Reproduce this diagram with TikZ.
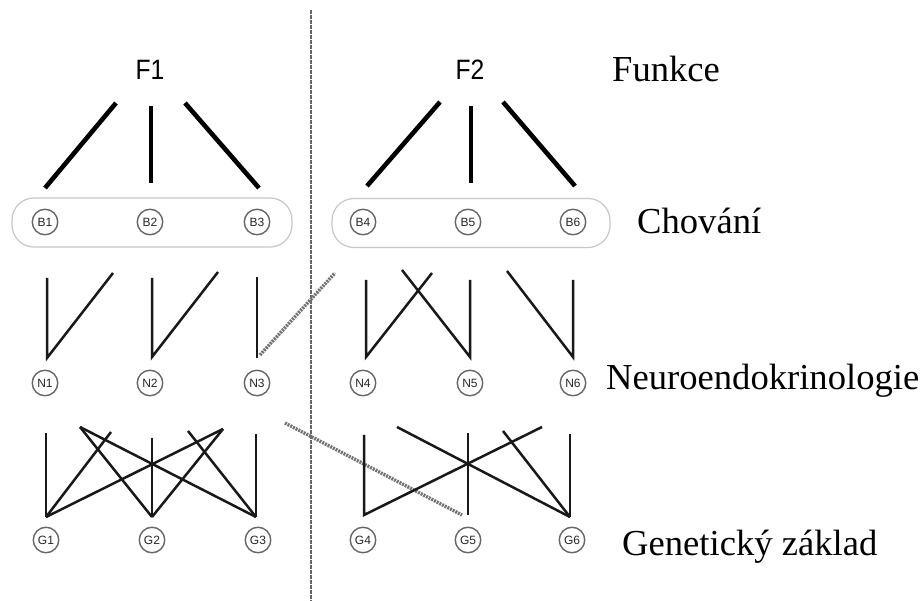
\documentclass[tikz,border=0pt]{standalone}
\usepackage{fontspec}
\setmainfont{Liberation Serif}
\newfontfamily\arialf{Liberation Sans}
\begin{document}
\begin{tikzpicture}[x=1pt,y=-1pt,
  circ/.style={circle, draw=black!60, line width=1.4pt, minimum size=25.5pt, inner sep=0pt,
    font=\arialf\fontsize{12}{12}\selectfont, text=black!85},
  flabel/.style={font=\arialf\fontsize{28}{28}\selectfont, inner sep=0pt, xscale=0.88},
  lvl/.style={anchor=base west, font=\fontsize{36.6}{36.6}\selectfont, inner sep=0pt},
  diagln/.style={line width=4.6pt, black},
  vertln/.style={line width=3.2pt, black},
  link/.style={line width=2.5pt, black!90},
  hatchln/.style={line width=3.4pt, black!55, dash pattern=on 2pt off 1pt},
  group/.style={draw=black!22, line width=1.2pt, rounded corners=22pt, minimum height=49pt},
  divider/.style={line width=1.3pt, black!60, dash pattern=on 1.6pt off 0.9pt}
]
\fill[white] (0,0) rectangle (924,601);
\useasboundingbox (0,0) rectangle (924,601);

% divider
\coordinate (dtop) at (311,10);
\coordinate (dbot) at (311,601);
\draw[divider] (dtop) -- (dbot);

% function labels
\node[flabel] (F1) at (150,70) {F1};
\node[flabel] (F2) at (470,70) {F2};

% level labels
\node[lvl] (Lfun) at (612,82) {Funkce};
\node[lvl] (Lcho) at (637,234) {Chování};
\node[lvl] (Lneu) at (606,390) {Neuroendokrinologie};
\node[lvl] (Lgen) at (622,555) {Genetický základ};

% behaviour groups
\node[group, minimum width=280pt] (BL) at (152,222.5) {};
\node[group, minimum width=278pt] (BR) at (471,223) {};

% circles
\foreach \n/\x in {1/45,2/150,3/257,4/363,5/468,6/573}{
  \node[circ] (B\n) at (\x,222) {B\n};}
\foreach \n/\x in {1/45,2/150,3/257,4/363,5/470,6/573}{
  \node[circ] (N\n) at (\x,383) {N\n};}
\foreach \n/\x in {1/46,2/152,3/258,4/363,5/468,6/572}{
  \node[circ] (G\n) at (\x,540) {G\n};}

% top connector coordinates
\coordinate (a1) at (116,103); \coordinate (a2) at (45,188);
\coordinate (a3) at (151,106); \coordinate (a4) at (151,183);
\coordinate (a5) at (185,103); \coordinate (a6) at (259,188);
\coordinate (b1) at (440,102); \coordinate (b2) at (367,186);
\coordinate (b3) at (471,106); \coordinate (b4) at (471,183);
\coordinate (b5) at (503,102); \coordinate (b6) at (575,186);
\draw[diagln] (a1) -- (a2);
\draw[vertln] (a3) -- (a4);
\draw[diagln] (a5) -- (a6);
\draw[diagln] (b1) -- (b2);
\draw[vertln] (b3) -- (b4);
\draw[diagln] (b5) -- (b6);

% neuro level connectors
\coordinate (n1t) at (47,278);  \coordinate (n1b) at (47,358);  \coordinate (n1d) at (113,273);
\coordinate (n2t) at (152,278); \coordinate (n2b) at (152,357); \coordinate (n2d) at (218,272);
\coordinate (n3t) at (257,277); \coordinate (n3b) at (257,358);
\coordinate (h1a) at (260,355); \coordinate (h1b) at (335,273);
\coordinate (n4t) at (366,280); \coordinate (n4b) at (366,357); \coordinate (n4d) at (432,273);
\coordinate (n5t) at (470,280); \coordinate (n5b) at (470,357); \coordinate (n5d) at (402,270);
\coordinate (n6t) at (573,280); \coordinate (n6b) at (573,357); \coordinate (n6d) at (507,271);
\draw[link, line join=miter] (n1t) -- (n1b) -- (n1d);
\draw[link, line join=miter] (n2t) -- (n2b) -- (n2d);
\draw[link] (n3t) -- (n3b);
\draw[hatchln] (h1a) -- (h1b);
\draw[link, line join=miter] (n4t) -- (n4b) -- (n4d);
\draw[link, line join=miter] (n5t) -- (n5b) -- (n5d);
\draw[link, line join=miter] (n6t) -- (n6b) -- (n6d);

% genetic level connectors
\coordinate (g1t) at (46,433);  \coordinate (g1b) at (46,517);
\coordinate (g2t) at (152,438); \coordinate (g2b) at (152,517);
\coordinate (g3t) at (256,434); \coordinate (g3b) at (256,517);
\coordinate (p1) at (80,427); \coordinate (p2) at (111,432);
\coordinate (p3) at (188,431); \coordinate (p4) at (223,429);
\draw[link] (g1t) -- (g1b);
\draw[link] (g1b) -- (p2);
\draw[link] (g1b) -- (p4);
\draw[link] (g2t) -- (g2b);
\draw[link] (g2b) -- (p1);
\draw[link] (g2b) -- (p4);
\draw[link] (g3t) -- (g3b);
\draw[link] (g3b) -- (p1);
\draw[link] (g3b) -- (p3);

\coordinate (g4t) at (364,435); \coordinate (g4b) at (364,515);
\coordinate (g5t) at (468,433); \coordinate (g5b) at (468,515);
\coordinate (g6t) at (570,434); \coordinate (g6b) at (570,517);
\coordinate (q1) at (542,427); \coordinate (q2) at (397,427); \coordinate (q3) at (503,431);
\coordinate (h2a) at (285,423); \coordinate (h2b) at (462,515);
\draw[hatchln] (h2a) -- (h2b);
\draw[link, line join=miter] (g4t) -- (g4b) -- (q1);
\draw[link] (g5t) -- (g5b);
\draw[link] (g6t) -- (g6b);
\draw[link] (g6b) -- (q2);
\draw[link] (g6b) -- (q3);
\end{tikzpicture}
\end{document}
